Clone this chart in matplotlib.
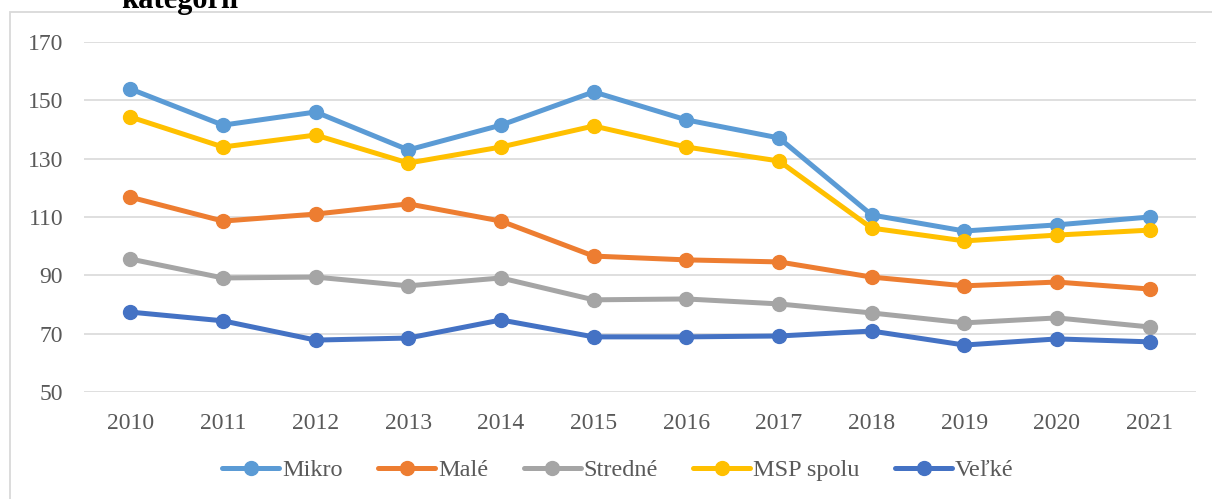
import matplotlib.pyplot as plt
from matplotlib.patches import Rectangle

# data
years = ['2010', '2011', '2012', '2013', '2014', '2015', '2016', '2017', '2018', '2019', '2020', '2021']
mikro = [153.9, 141.5, 146.0, 133.0, 141.5, 152.9, 143.3, 137.1, 110.7, 105.2, 107.3, 110.0]
male = [116.8, 108.6, 111.0, 114.5, 108.6, 96.6, 95.3, 94.6, 89.4, 86.4, 87.7, 85.3]
stredne = [95.6, 89.1, 89.4, 86.4, 89.1, 81.6, 81.9, 80.2, 77.1, 73.7, 75.4, 72.3]
msp_spolu = [144.3, 134.0, 138.1, 128.5, 134.0, 141.2, 134.0, 129.2, 106.2, 101.8, 103.8, 105.5]
velke = [77.4, 74.4, 67.8, 68.5, 74.7, 68.9, 68.9, 69.2, 70.9, 66.1, 68.2, 67.2]

series = [('Mikro', mikro, '#5B9BD5'),
          ('Malé', male, '#ED7D31'),
          ('Stredné', stredne, '#A5A5A5'),
          ('MSP spolu', msp_spolu, '#FFC000'),
          ('Veľké', velke, '#4472C4')]

plt.rcParams['font.family'] = ['Liberation Serif', 'DejaVu Serif']

W, H = 1212, 499
fig = plt.figure(figsize=(W / 100, H / 100), dpi=100)

# ramik grafu
fig.patches.append(Rectangle((10 / W, -0.1), 1.2, 1 - 12 / H + 0.1, transform=fig.transFigure,
                             facecolor='none', edgecolor='#D9D9D9', linewidth=1.3))

# orezany nadpis (v originali je odrezany)
fig.text(180 / W, 1 - 8 / H, 'kategórií', fontsize=22, fontweight='bold',
         ha='center', va='baseline', color='black')

ax = fig.add_axes([84 / W, 1 - 392 / H, (1196 - 84) / W, (392 - 42) / H])
x = list(range(len(years)))
for name, vals, col in series:
    ax.plot(x, vals, color=col, linewidth=3.6, marker='o', markersize=10, label=name,
            solid_capstyle='round')

ax.set_xlim(-0.5, len(years) - 0.5)
ax.set_ylim(50, 170)
ax.set_yticks(range(50, 171, 20))
ax.set_xticks(x)
ax.set_xticklabels(years)
ax.grid(axis='y', color='#D9D9D9', linewidth=1.2)
ax.set_axisbelow(True)
for s in ax.spines.values():
    s.set_visible(False)
ax.tick_params(length=0, labelsize=17, labelcolor='#595959')
ax.tick_params(axis='y', pad=15)
ax.tick_params(axis='x', pad=15)

leg = fig.legend(loc='center', bbox_to_anchor=(618 / W, 1 - 470 / H), ncol=5, frameon=False,
                 fontsize=17.5, handlelength=2.35, columnspacing=1.45, handletextpad=0.12,
                 labelcolor='#595959', markerscale=1.0)

fig.savefig('out.png', dpi=100)
